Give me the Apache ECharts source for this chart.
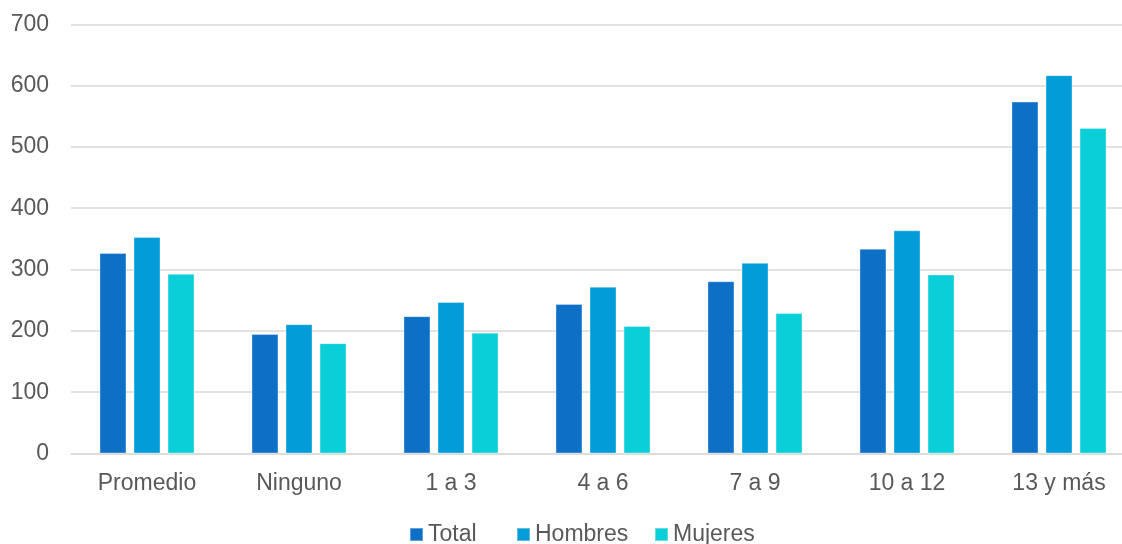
<!DOCTYPE html>
<html>
<head>
<meta charset="utf-8">
<script src="https://cdn.jsdelivr.net/npm/echarts@6/dist/echarts.min.js"></script>
<style>
  html, body { margin: 0; padding: 0; background: #ffffff; overflow: hidden; }
  /* the plot area runs a little past the right edge of the window */
  #chart { width: 1135px; height: 544px; }
</style>
</head>
<body>
<div id="chart"></div>
<script>
// Años de escolaridad
const categories = ['Promedio', 'Ninguno', '1 a 3', '4 a 6', '7 a 9', '10 a 12', '13 y más'];
const total   = [327, 195, 224, 244, 281, 334, 574];
const hombres = [353, 211, 247, 272, 311, 364, 617];
const mujeres = [293, 180, 197, 208, 229, 292, 531];
const yTicks = [0, 100, 200, 300, 400, 500, 600, 700];
const seriesNames = ['Total', 'Hombres', 'Mujeres'];

const FONT = '"Liberation Sans", Arial, sans-serif';
const TEXT = '#595959';
const GRID = '#d9d9d9';

function barSeries(name, data, color) {
  return {
    name: name,
    type: 'bar',
    data: data,
    barWidth: 27,
    barGap: '26%',
    itemStyle: {
      color: color,
      borderColor: 'rgba(255,255,255,0.35)',
      borderWidth: 1
    }
  };
}

// one legend entry per series, placed side by side along the bottom
const legendLefts = [409, 516, 654];
const legends = seriesNames.map((name, i) => ({
  left: legendLefts[i],
  top: 523,
  padding: 0,
  itemWidth: 13,
  itemHeight: 13,
  icon: 'rect',
  textStyle: { color: TEXT, fontSize: 23, fontFamily: FONT },
  data: [name]
}));

const chart = echarts.init(document.getElementById('chart'), null, { renderer: 'canvas' });
chart.setOption({
  animation: false,
  backgroundColor: '#ffffff',
  textStyle: { fontFamily: FONT },
  grid: { left: 71, top: 24.3, right: 0, bottom: 90.5, containLabel: false },
  legend: legends,
  xAxis: {
    type: 'category',
    data: categories,
    axisLine: { show: true, lineStyle: { color: GRID, width: 1.5 } },
    axisTick: { show: false },
    axisLabel: { color: TEXT, fontSize: 23, fontFamily: FONT, margin: 19 }
  },
  yAxis: {
    type: 'value',
    min: yTicks[0],
    max: yTicks[yTicks.length - 1],
    interval: 100,
    axisLine: { show: false },
    axisTick: { show: false },
    axisLabel: { color: TEXT, fontSize: 23, fontFamily: FONT, margin: 22 },
    splitLine: { lineStyle: { color: GRID, width: 1.5 } }
  },
  series: [
    barSeries(seriesNames[0], total, '#0e6fc6'),
    barSeries(seriesNames[1], hombres, '#029dd8'),
    barSeries(seriesNames[2], mujeres, '#0bcfd8')
  ]
});
</script>
</body>
</html>
